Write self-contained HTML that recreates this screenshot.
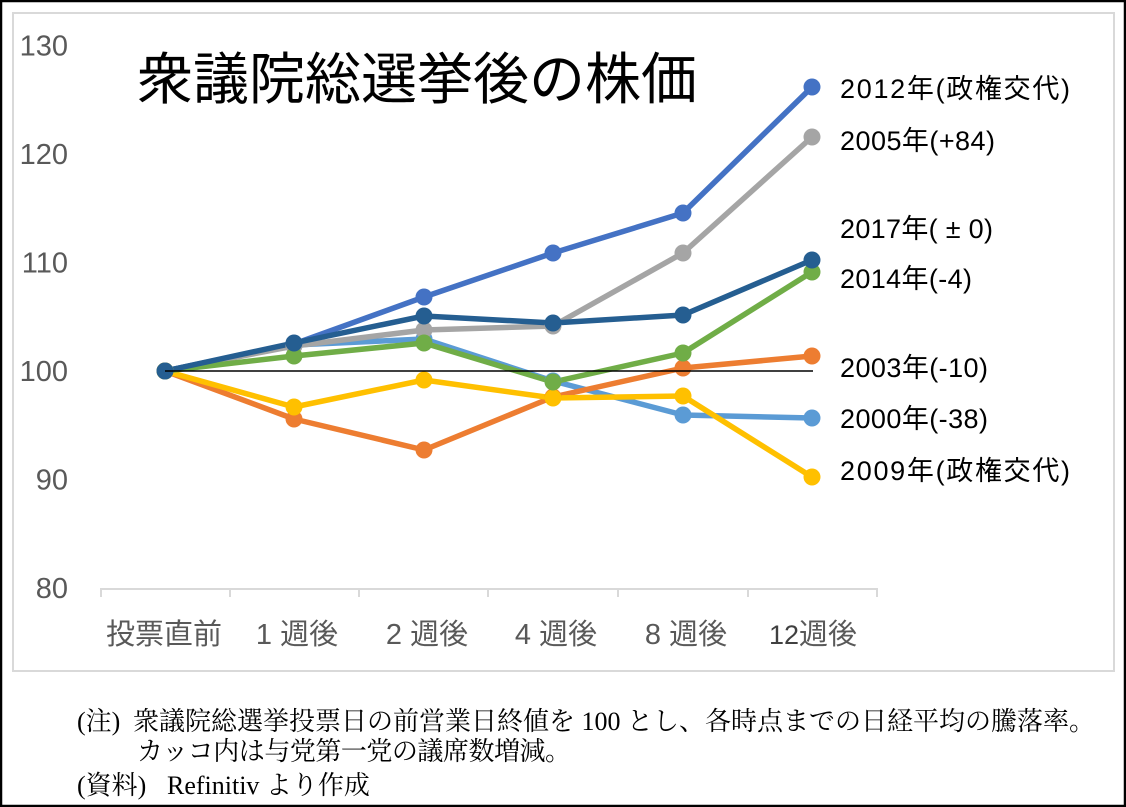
<!DOCTYPE html>
<html><head><meta charset="utf-8">
<style>
html,body{margin:0;padding:0;background:#fff;}
svg{display:block;}
</style></head>
<body>
<svg width="1126" height="807" viewBox="0 0 1126 807" xmlns="http://www.w3.org/2000/svg">
<rect x="0" y="0" width="1126" height="807" fill="#fff"/>
<rect x="1" y="1" width="1124" height="805" fill="none" stroke="#000" stroke-width="2.5"/>
<rect x="13" y="13" width="1101" height="658" fill="none" stroke="#D9D9D9" stroke-width="2"/>

<!-- y labels -->
<g font-family="'Liberation Sans', sans-serif" font-size="29" fill="#595959" text-anchor="end">
<text x="68" y="55.5">130</text>
<text x="68" y="164">120</text>
<text x="68" y="272.5">110</text>
<text x="68" y="381">100</text>
<text x="68" y="489.5">90</text>
<text x="68" y="598">80</text>
</g>

<!-- x axis -->
<g stroke="#D9D9D9" stroke-width="2" fill="none">
<line x1="100" y1="589" x2="878" y2="589"/>
<line x1="101" y1="589" x2="101" y2="597"/>
<line x1="230" y1="589" x2="230" y2="597"/>
<line x1="359" y1="589" x2="359" y2="597"/>
<line x1="488" y1="589" x2="488" y2="597"/>
<line x1="618" y1="589" x2="618" y2="597"/>
<line x1="748" y1="589" x2="748" y2="597"/>
<line x1="877" y1="589" x2="877" y2="597"/>
</g>
<g font-family="'Liberation Sans', 'Noto Sans CJK JP', sans-serif" font-size="29" fill="#595959" text-anchor="middle">
<text x="164" y="644">投票直前</text>
<text x="297" y="644">1 週後</text>
<text x="427" y="644">2 週後</text>
<text x="556" y="644">4 週後</text>
<text x="686" y="644">8 週後</text>
<text x="813" y="644"><tspan fill="#404040" font-size="27">12</tspan>週後</text>
</g>

<!-- title -->
<text x="137" y="99" font-family="'Liberation Sans', 'Noto Sans CJK JP', sans-serif" font-size="56" fill="#000">衆議院総選挙後の株価</text>

<!-- series -->
<g fill="none" stroke-width="5.5" stroke-linejoin="round" stroke-linecap="round">
<polyline stroke="#5B9BD5" points="165,371 294,345 424,339 553,381 683,415 812,418"/>
<polyline stroke="#4472C4" points="165,371 294,344 424,297 553,253 683,213 812,87"/>
<polyline stroke="#ED7D31" points="165,371 294,419 424,450 553,397 683,368 812,356"/>
<polyline stroke="#A5A5A5" points="165,371 294,346 424,330 553,326 683,253 812,137"/>
<polyline stroke="#FFC000" points="165,371 294,407 424,380 553,398 683,396 812,477"/>
<polyline stroke="#70AD47" points="165,371 294,356 424,343 553,382 683,353 812,272"/>
<polyline stroke="#255E91" points="165,371 294,343 424,316 553,323 683,315 812,260"/>
</g>
<g fill="#5B9BD5"><circle cx="165" cy="371" r="8.5"/><circle cx="294" cy="345" r="8.5"/><circle cx="424" cy="339" r="8.5"/><circle cx="553" cy="381" r="8.5"/><circle cx="683" cy="415" r="8.5"/><circle cx="812" cy="418" r="8.5"/></g>
<g fill="#4472C4"><circle cx="165" cy="371" r="8.5"/><circle cx="294" cy="344" r="8.5"/><circle cx="424" cy="297" r="8.5"/><circle cx="553" cy="253" r="8.5"/><circle cx="683" cy="213" r="8.5"/><circle cx="812" cy="87" r="8.5"/></g>
<g fill="#ED7D31"><circle cx="165" cy="371" r="8.5"/><circle cx="294" cy="419" r="8.5"/><circle cx="424" cy="450" r="8.5"/><circle cx="553" cy="397" r="8.5"/><circle cx="683" cy="368" r="8.5"/><circle cx="812" cy="356" r="8.5"/></g>
<g fill="#A5A5A5"><circle cx="165" cy="371" r="8.5"/><circle cx="294" cy="346" r="8.5"/><circle cx="424" cy="330" r="8.5"/><circle cx="553" cy="326" r="8.5"/><circle cx="683" cy="253" r="8.5"/><circle cx="812" cy="137" r="8.5"/></g>
<g fill="#FFC000"><circle cx="165" cy="371" r="8.5"/><circle cx="294" cy="407" r="8.5"/><circle cx="424" cy="380" r="8.5"/><circle cx="553" cy="398" r="8.5"/><circle cx="683" cy="396" r="8.5"/><circle cx="812" cy="477" r="8.5"/></g>
<g fill="#70AD47"><circle cx="165" cy="371" r="8.5"/><circle cx="294" cy="356" r="8.5"/><circle cx="424" cy="343" r="8.5"/><circle cx="553" cy="382" r="8.5"/><circle cx="683" cy="353" r="8.5"/><circle cx="812" cy="272" r="8.5"/></g>
<g fill="#255E91"><circle cx="165" cy="371" r="8.5"/><circle cx="294" cy="343" r="8.5"/><circle cx="424" cy="316" r="8.5"/><circle cx="553" cy="323" r="8.5"/><circle cx="683" cy="315" r="8.5"/><circle cx="812" cy="260" r="8.5"/></g>

<line x1="165" y1="371" x2="813" y2="371" stroke="#000" stroke-width="1.6"/>

<!-- series labels -->
<g font-family="'Liberation Sans', 'Noto Sans CJK JP', sans-serif" font-size="27" fill="#000">
<text x="840" y="98" textLength="230" lengthAdjust="spacing">2012年(政権交代)</text>
<text x="840" y="150" textLength="155" lengthAdjust="spacing">2005年(+84)</text>
<text x="840" y="238" textLength="153" lengthAdjust="spacing">2017年( ± 0)</text>
<text x="840" y="288" textLength="132" lengthAdjust="spacing">2014年(-4)</text>
<text x="840" y="377" textLength="148" lengthAdjust="spacing">2003年(-10)</text>
<text x="840" y="428" textLength="148" lengthAdjust="spacing">2000年(-38)</text>
<text x="840" y="480" textLength="230" lengthAdjust="spacing">2009年(政権交代)</text>
</g>

<!-- notes -->
<g font-family="'Liberation Serif', 'Noto Serif CJK SC', serif" font-size="26" fill="#000">
<text x="77" y="730">(注)</text>
<text x="133" y="730" textLength="962" lengthAdjust="spacing">衆議院総選挙投票日の前営業日終値を 100 とし、各時点までの日経平均の騰落率。</text>
<text x="137" y="760" textLength="434" lengthAdjust="spacing">カッコ内は与党第一党の議席数増減。</text>
<text x="77" y="794">(資料)</text>
<text x="167" y="794">Refinitiv より作成</text>
</g>
</svg>
</body></html>
